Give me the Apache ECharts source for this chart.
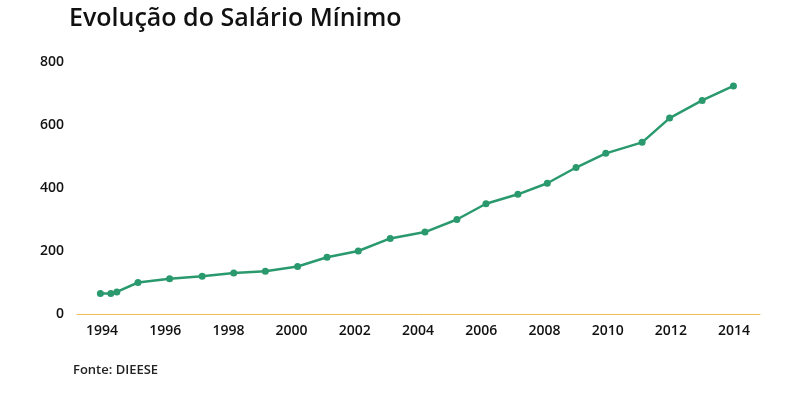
<!DOCTYPE html>
<html>
<head>
<meta charset="utf-8">
<script src="https://cdn.jsdelivr.net/npm/echarts@6/dist/echarts.min.js"></script>
<style>
html,body{margin:0;padding:0;background:#fff;}
#chart{width:800px;height:398px;}
</style>
</head>
<body>
<div id="chart"></div>
<script>
// Decimal years (position on the time scale) and minimum wage values (R$)
var years = [1993.95, 1994.28, 1994.47, 1995.14, 1996.14, 1997.17, 1998.17, 1999.17,
  2000.19, 2001.12, 2002.11, 2003.12, 2004.22, 2005.23, 2006.15, 2007.16,
  2008.09, 2009.00, 2009.94, 2011.09, 2011.96, 2012.99, 2013.98];
var wages = [64.79, 64.79, 70, 100, 112, 120, 130, 136,
  151, 180, 200, 240, 260, 300, 350, 380,
  415, 465, 510, 545, 622, 678, 724];
var xTickYears = [1994, 1996, 1998, 2000, 2002, 2004, 2006, 2008, 2010, 2012, 2014];
var yTicks = [0, 200, 400, 600, 800];

var font = '"Open Sans", "Noto Sans", sans-serif';
var chart = echarts.init(document.getElementById('chart'), null, {renderer: 'canvas'});
var data = years.map(function (y, i) { return [y, wages[i]]; });

chart.setOption({
  animation: false,
  backgroundColor: '#ffffff',
  title: [{
    text: 'Evolução do Salário Mínimo',
    left: 64, top: 1,
    textStyle: {fontFamily: font, fontSize: 25, fontWeight: 600, color: '#111111'}
  }, {
    text: 'Fonte: DIEESE',
    left: 68, top: 359,
    textStyle: {fontFamily: font, fontSize: 13, fontWeight: 600, color: '#222222'}
  }],
  grid: {left: 77, right: 40, top: 62, bottom: 84},
  xAxis: {
    type: 'value',
    min: 1993.21, max: 2014.82,
    offset: 2,
    splitLine: {show: false},
    axisLine: {show: true, lineStyle: {color: '#f2bd55', width: 1}},
    axisTick: {show: false},
    axisLabel: {
      customValues: xTickYears,
      margin: 8,
      fontFamily: font, fontSize: 14, fontWeight: 600, color: '#111111',
      formatter: function (v) { return String(Math.round(v)); }
    }
  },
  yAxis: {
    type: 'value',
    min: 0, max: 800, interval: 200,
    splitLine: {show: false},
    axisLine: {show: false},
    axisTick: {show: false},
    axisLabel: {
      customValues: yTicks,
      margin: 13,
      fontFamily: font, fontSize: 14, fontWeight: 600, color: '#111111'
    }
  },
  series: [{
    type: 'line',
    data: data,
    symbol: 'circle',
    symbolSize: 7,
    lineStyle: {color: '#2a9a6e', width: 2.5},
    itemStyle: {color: '#2a9a6e'}
  }]
});
</script>
</body>
</html>
